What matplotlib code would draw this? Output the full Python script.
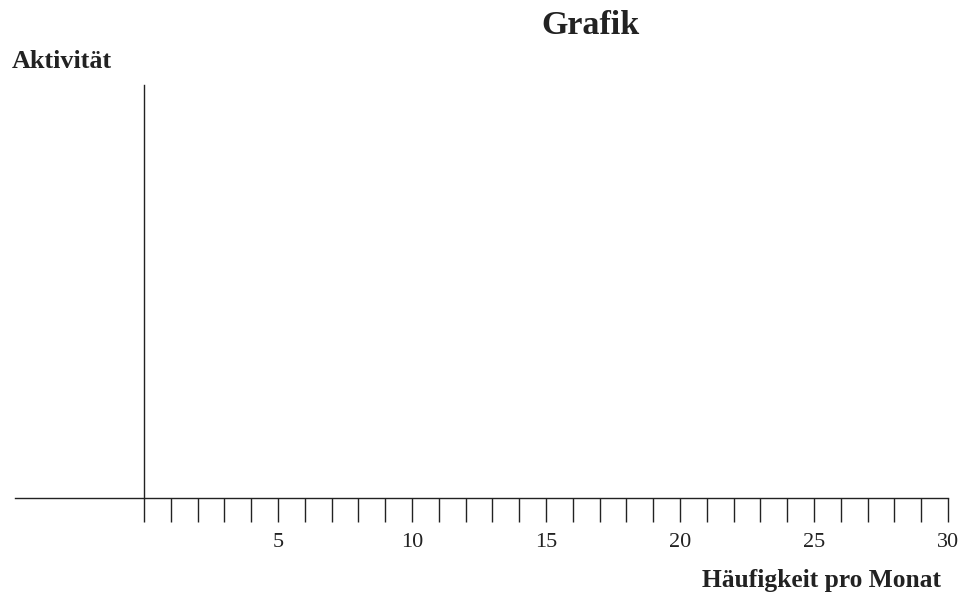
import matplotlib.pyplot as plt

plt.rcParams['font.family'] = ['Liberation Serif', 'DejaVu Serif']

# Chart texts and axis values
title = "Grafik"
y_label = "Aktivität"
x_label = "Häufigkeit pro Monat"
tick_values = list(range(0, 31))          # one tick per unit
labelled_ticks = [5, 10, 15, 20, 25, 30]  # only these get a number

W, H = 963, 595
fig = plt.figure(figsize=(W / 100, H / 100), dpi=100)

# axes box: left edge of x-axis line to x=30, x-axis up to top of y-axis
left, right, bottom, top = 15, 948, 498, 85
ax = fig.add_axes([left / W, 1 - bottom / H, (right - left) / W, (bottom - top) / H])
ax.set_xlim(-(144 - left) / ((right - 144) / 30), 30)
ax.set_ylim(0, 1)

ax.spines['top'].set_visible(False)
ax.spines['right'].set_visible(False)
ax.spines['left'].set_position(('data', 0))
for s in ('left', 'bottom'):
    ax.spines[s].set_linewidth(1.0)
    ax.spines[s].set_color('#222222')

ax.set_yticks([])
ax.set_xticks(tick_values)
ax.set_xticklabels([str(v) if v in labelled_ticks else '' for v in tick_values])
ax.tick_params(axis='x', direction='out', length=17, width=1.0, color='#222222',
               pad=8, labelsize=16, labelcolor='#222222')

fig.text(590 / W, 1 - 25 / H, title, ha='center', va='center',
         fontsize=24.5, fontweight='bold', color='#222222')
fig.text(12 / W, 1 - 62 / H, y_label, ha='left', va='center',
         fontsize=18.8, fontweight='bold', color='#222222')
fig.text(941 / W, 1 - 580 / H, x_label, ha='right', va='center',
         fontsize=18.4, fontweight='bold', color='#222222')

fig.savefig('out.png', dpi=100)
